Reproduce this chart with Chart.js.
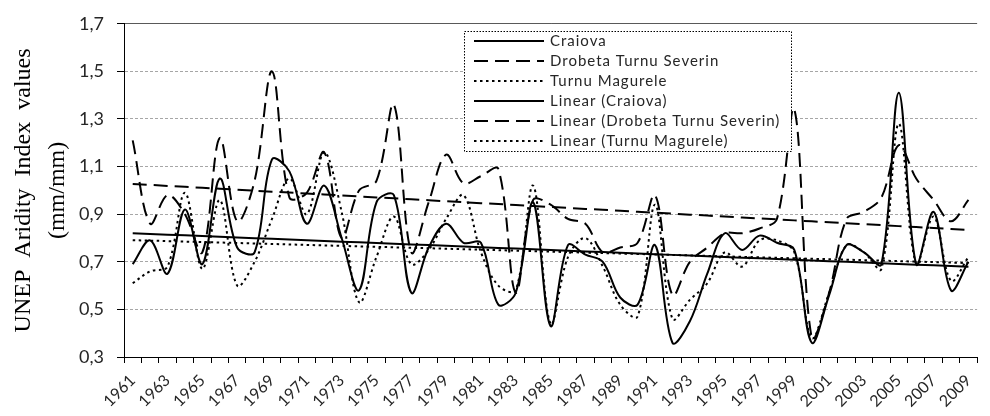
<!DOCTYPE html>
<html>
<head>
<meta charset="utf-8">
<script src="https://cdn.jsdelivr.net/npm/chart.js@4.4.1/dist/chart.umd.min.js"></script>
<style>
  html, body { margin: 0; padding: 0; background: #fff; }
  #wrap { width: 990px; height: 416px; }
</style>
</head>
<body>
<div id="wrap"><canvas id="aridityChart" width="990" height="416"></canvas></div>
<script>
// --- DATA ---
const years = [
  "1961", "1962", "1963", "1964", "1965", "1966", "1967", "1968", "1969", "1970",
  "1971", "1972", "1973", "1974", "1975", "1976", "1977", "1978", "1979", "1980",
  "1981", "1982", "1983", "1984", "1985", "1986", "1987", "1988", "1989", "1990",
  "1991", "1992", "1993", "1994", "1995", "1996", "1997", "1998", "1999", "2000",
  "2001", "2002", "2003", "2004", "2005", "2006", "2007", "2008", "2009"
];

const craiova = [
  0.69, 0.79, 0.65, 0.92, 0.69, 1.05, 0.76, 0.74, 1.13, 1.08,
  0.86, 1.02, 0.80, 0.58, 0.95, 0.98, 0.57, 0.76, 0.86, 0.78,
  0.78, 0.52, 0.57, 0.95, 0.43, 0.77, 0.73, 0.70, 0.55, 0.52,
  0.77, 0.36, 0.45, 0.65, 0.82, 0.75, 0.81, 0.78, 0.75, 0.36,
  0.56, 0.77, 0.74, 0.69, 1.41, 0.69, 0.91, 0.58, 0.70
];

const drobeta = [
  1.21, 0.86, 0.98, 0.90, 0.74, 1.22, 0.87, 1.04, 1.50, 0.97,
  0.99, 1.16, 0.80, 1.00, 1.04, 1.36, 0.74, 0.95, 1.15, 1.03,
  1.06, 1.09, 0.57, 0.96, 0.94, 0.88, 0.86, 0.74, 0.76, 0.78,
  0.98, 0.56, 0.70, 0.76, 0.82, 0.82, 0.84, 0.88, 1.34, 0.38,
  0.57, 0.88, 0.91, 0.97, 1.19, 1.05, 0.96, 0.87, 0.96
];

const turnu = [
  0.61, 0.66, 0.68, 0.99, 0.67, 0.96, 0.60, 0.70, 0.88, 1.05,
  0.90, 1.16, 0.91, 0.53, 0.72, 0.89, 0.69, 0.75, 0.88, 0.98,
  0.74, 0.60, 0.58, 1.02, 0.44, 0.72, 0.80, 0.68, 0.52, 0.47,
  0.94, 0.46, 0.54, 0.61, 0.74, 0.68, 0.79, 0.79, 0.74, 0.38,
  0.57, 0.77, 0.74, 0.67, 1.28, 0.69, 0.89, 0.62, 0.72
];

const yTicks = [0.3, 0.5, 0.7, 0.9, 1.1, 1.3, 1.5, 1.7];

// --- LINEAR TREND (least squares, like Excel's "Linear" trendline) ---
function linearTrend(values) {
  const n = values.length;
  let sx = 0, sy = 0, sxy = 0, sxx = 0;
  values.forEach((v, i) => { sx += i; sy += v; sxy += i * v; sxx += i * i; });
  const slope = (n * sxy - sx * sy) / (n * sxx - sx * sx);
  const icpt = (sy - slope * sx) / n;
  return values.map((v, i) => icpt + slope * i);
}

// --- STYLES ---
const SOLID = [];
const DASHED = [14, 7];
const DOTTED = [2.5, 3.5];
const FONT = "Lato, 'Open Sans', sans-serif";

function series(label, data, dash, smooth) {
  return {
    label: label,
    data: data,
    borderColor: "#000",
    borderWidth: 2,
    borderDash: dash,
    borderCapStyle: "butt",
    fill: false,
    pointRadius: 0,
    tension: smooth ? 0.35 : 0
  };
}

const datasets = [
  series("Craiova", craiova, SOLID, true),
  series("Drobeta Turnu Severin", drobeta, DASHED, true),
  series("Turnu Magurele", turnu, DOTTED, true),
  series("Linear (Craiova)", linearTrend(craiova), SOLID, false),
  series("Linear (Drobeta Turnu Severin)", linearTrend(drobeta), DASHED, false),
  series("Linear (Turnu Magurele)", linearTrend(turnu), DOTTED, false)
];

// --- LEGEND BOX INSIDE THE PLOT ---
const legendBox = {
  id: "legendBox",
  afterDraw(chart) {
    const ctx = chart.ctx;
    const bx = 464, by = 31, bw = 327, bh = 120;
    ctx.save();
    ctx.fillStyle = "#fff";
    ctx.fillRect(bx, by, bw, bh);
    ctx.strokeStyle = "#000";
    ctx.lineWidth = 1;
    ctx.setLineDash([1.5, 1.5]);
    ctx.strokeRect(bx + 0.5, by + 0.5, bw, bh);
    ctx.font = "15px " + FONT;
    if ("letterSpacing" in ctx) ctx.letterSpacing = "1px";
    ctx.textBaseline = "middle";
    ctx.fillStyle = "#262626";
    chart.data.datasets.forEach((ds, i) => {
      const y = by + 10 + i * 20;
      ctx.setLineDash(ds.borderDash);
      ctx.lineWidth = ds.borderWidth;
      ctx.strokeStyle = ds.borderColor;
      ctx.beginPath();
      ctx.moveTo(474, y);
      ctx.lineTo(544, y);
      ctx.stroke();
      ctx.fillText(ds.label, 550, y);
    });
    ctx.restore();
  }
};

const isTop = c => c.tick && c.tick.value > 1.69;

const ctx = document.getElementById("aridityChart").getContext("2d");
const aridityChart = new Chart(ctx, {
  type: "line",
  data: { labels: years, datasets: datasets },
  options: {
    responsive: false,
    animation: false,
    devicePixelRatio: 1,
    layout: { padding: { top: 20, right: 0, left: 0, bottom: 0 } },
    plugins: { legend: { display: false }, tooltip: { enabled: false } },
    scales: {
      x: {
        type: "category",
        offset: true,
        grid: { offset: true, drawOnChartArea: false, drawTicks: true, tickLength: 6, color: "#000", tickColor: "#000" },
        border: { display: true, color: "#000", width: 1 },
        ticks: {
          autoSkip: false,
          maxRotation: 45,
          minRotation: 45,
          padding: 8,
          color: "#262626",
          font: { family: FONT, size: 16 },
          callback: (v, i) => (i % 2 === 0 ? years[i] : "")
        },
        afterFit: s => { s.height = 59; }
      },
      y: {
        min: yTicks[0],
        max: yTicks[yTicks.length - 1],
        afterBuildTicks: s => { s.ticks = yTicks.map(v => ({ value: v })); },
        ticks: {
          padding: 13,
          color: "#262626",
          font: { family: FONT, size: 18 },
          callback: v => v.toFixed(1).replace(".", ",")
        },
        grid: {
          color: c => (isTop(c) ? "#595959" : "#a6a6a6"),
          tickColor: "#000",
          tickLength: 7,
          lineWidth: 1
        },
        border: { display: true, color: "#000", width: 1, dash: c => (isTop(c) ? [] : [3, 2]) },
        title: {
          display: true,
          text: ["UNEP  Aridity  Index  values", "(mm/mm)"],
          color: "#000",
          font: { family: "'Liberation Serif', 'DejaVu Serif', serif", size: 24, lineHeight: 1.45 },
          padding: { top: 6, bottom: 0 }
        },
        afterFit: s => { s.width = 124; }
      }
    }
  },
  plugins: [legendBox]
});
</script>
</body>
</html>
